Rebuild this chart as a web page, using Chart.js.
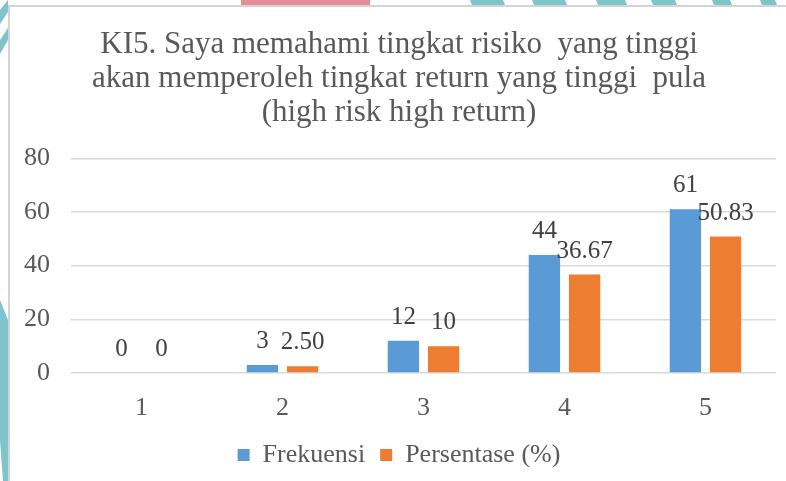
<!DOCTYPE html>
<html>
<head>
<meta charset="utf-8">
<script src="https://cdn.jsdelivr.net/npm/chart.js@4"></script>
<style>
  html, body { margin: 0; padding: 0; background: #fff; }
  #wrap { width: 786px; height: 481px; }
</style>
</head>
<body>
<div id="wrap"><canvas id="chart" width="786" height="481"></canvas></div>
<script>
// data
const categories = ['1', '2', '3', '4', '5'];
const frekuensi = [0, 3, 12, 44, 61];
const persentase = [0, 2.5, 10, 36.67, 50.83];
const frekuensiLabels = ['0', '3', '12', '44', '61'];
const persentaseLabels = ['0', '2.50', '10', '36.67', '50.83'];
const titleLines = [
    'KI5. Saya memahami tingkat risiko  yang tinggi',
    'akan memperoleh tingkat return yang tinggi  pula',
    '(high risk high return)'
];

const serif = "'Liberation Serif', 'Times New Roman', serif";

// background frame with the page decorations
const framePlugin = {
    id: 'frame',
    beforeDraw(chart) {
        const c = chart.ctx;
        c.save();
        c.fillStyle = '#fff';
        c.fillRect(0, 0, chart.width, chart.height);
        // pink block at top
        c.fillStyle = '#e58e96';
        c.fillRect(241, 0, 129, 5);
        // teal stripes top right
        c.fillStyle = '#7fc3cb';
        [[470, 503], [532, 565], [596, 625], [651, 675], [712, 730], [760, 775]].forEach(s => {
            c.beginPath();
            c.moveTo(s[0], 0); c.lineTo(s[1], 0); c.lineTo(s[1] + 2, 5); c.lineTo(s[0] + 2, 5);
            c.closePath(); c.fill();
        });
        // teal stripes left side
        c.beginPath();
        c.moveTo(0, 10); c.lineTo(8, 0); c.lineTo(8, 12); c.lineTo(0, 24); c.closePath(); c.fill();
        c.beginPath();
        c.moveTo(0, 40); c.lineTo(8, 28); c.lineTo(8, 40); c.lineTo(0, 54); c.closePath(); c.fill();
        c.beginPath();
        c.moveTo(0, 300); c.lineTo(8, 320); c.lineTo(8, 481); c.lineTo(3, 481); c.lineTo(0, 440); c.closePath(); c.fill();
        // gray frame
        c.fillStyle = '#d4d4d4';
        c.fillRect(8, 5, chart.width - 8, 2);
        c.fillRect(8, 5, 2, chart.height - 5);
        c.restore();
    }
};

// values above the bars
const valueLabels = {
    id: 'valueLabels',
    afterDatasetsDraw(chart) {
        const c = chart.ctx;
        const texts = [frekuensiLabels, persentaseLabels];
        c.save();
        c.font = '25px ' + serif;
        c.fillStyle = '#404040';
        c.textAlign = 'center';
        c.textBaseline = 'bottom';
        chart.data.datasets.forEach((ds, i) => {
            chart.getDatasetMeta(i).data.forEach((bar, j) => {
                c.fillText(texts[i][j], bar.x, bar.y - 11);
            });
        });
        c.restore();
    }
};

new Chart(document.getElementById('chart').getContext('2d'), {
    type: 'bar',
    data: {
        labels: categories,
        datasets: [{
            label: 'Frekuensi',
            data: frekuensi,
            backgroundColor: '#5b9bd5',
            categoryPercentage: 0.57,
            barPercentage: 0.78
        }, {
            label: 'Persentase (%)',
            data: persentase,
            backgroundColor: '#ed7d31',
            categoryPercentage: 0.57,
            barPercentage: 0.78
        }]
    },
    options: {
        responsive: false,
        animation: false,
        layout: { padding: { left: 22, right: 10, top: 28, bottom: 3 } },
        plugins: {
            title: {
                display: true,
                text: titleLines,
                color: '#595959',
                font: { family: serif, size: 31, weight: 'normal', lineHeight: 1.1 },
                padding: { top: 0, bottom: 28 }
            },
            legend: {
                position: 'bottom',
                labels: {
                    color: '#595959',
                    font: { family: serif, size: 26 },
                    boxWidth: 12,
                    boxHeight: 12,
                    padding: 15
                }
            },
            tooltip: { enabled: false }
        },
        scales: {
            x: {
                afterFit: s => { s.height = 54; },
                grid: { display: false },
                border: { display: false },
                ticks: { color: '#595959', font: { family: serif, size: 26 }, padding: 12 }
            },
            y: {
                min: 0,
                max: 80,
                afterFit: s => { s.width = 49; },
                grid: { color: '#d9d9d9', lineWidth: 1.5, drawTicks: false },
                border: { display: false },
                ticks: { stepSize: 20, color: '#595959', font: { family: serif, size: 26 }, padding: 21 }
            }
        }
    },
    plugins: [framePlugin, valueLabels]
});
</script>
</body>
</html>
